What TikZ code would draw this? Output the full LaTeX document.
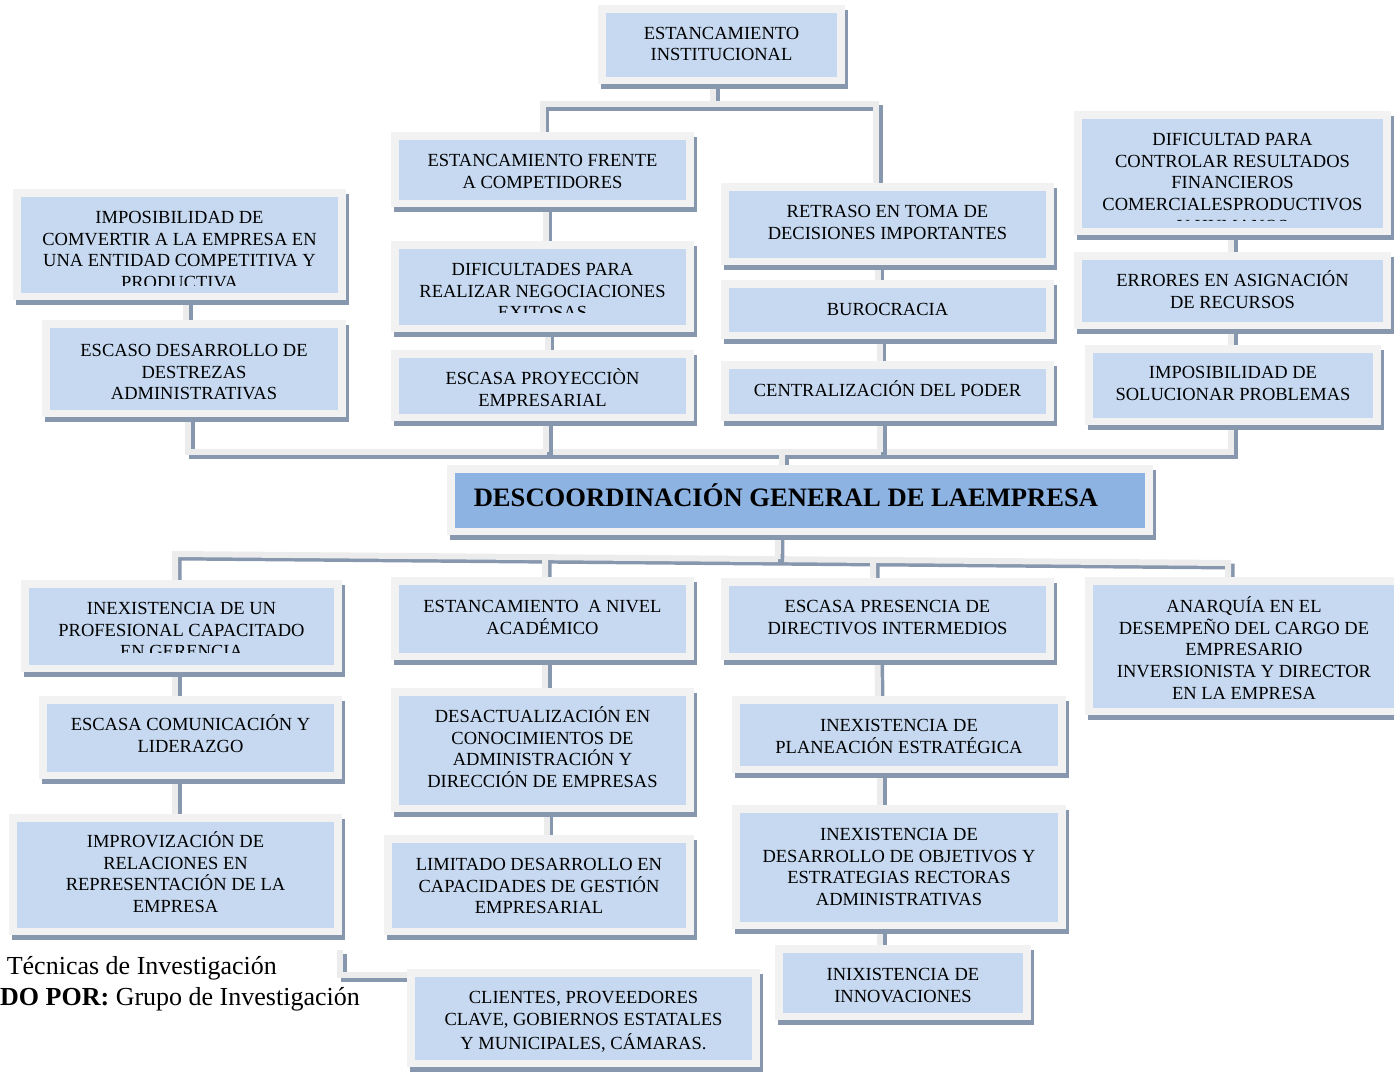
\documentclass[tikz,border=0pt]{standalone}
\usepackage{fontspec}
\setmainfont{Liberation Serif}
\usetikzlibrary{calc}
\definecolor{framec}{HTML}{F2F2F2}
\definecolor{linec}{HTML}{ECECEC}
\definecolor{shadowc}{HTML}{8797AD}
\definecolor{bluec}{HTML}{C6D9F1}
\definecolor{titlec}{HTML}{8DB3E2}
\pgfdeclarelayer{bg}
\pgfsetlayers{bg,main}
\tikzset{
  inbox/.style={draw=none, fill=bluec, inner sep=0pt, outer sep=0pt},
  boxtext/.style={anchor=north, align=center, inner sep=0pt, text=black,
    font={\fontsize{18.5}{21.7}\selectfont}},
  conn/.style={line width=6pt, draw=linec,
    preaction={draw=shadowc, line width=6pt, transform canvas={shift={(3.5pt,-3.5pt)}}}},
  srctext/.style={anchor=base east, inner sep=0pt, font={\fontsize{26}{30}\selectfont}}
}
% frame and shadow around an inner rectangle (x1,y1)-(x2,y2)
\newcommand\cfrm[4]{%
  \fill[shadowc] ({#1-5},{#2-3}) rectangle ({#3+11},{#4+12});
  \fill[framec] ({#1-8},{#2-8}) rectangle ({#3+8},{#4+7});
}
% name, x1, y1, x2, y2, first line y, text
\newcommand\cbox[7]{%
  \cfrm{#2}{#3}{#4}{#5}
  \node[inbox, minimum width={#4-#2}, minimum height={#5-#3}] (#1) at ({(#2+#4)/2},{(#3+#5)/2}) {};
  \node[boxtext] (#1-t) at ({(#2+#4)/2},{#6-10.9}) {\rule{0pt}{17pt}#7};
}
% same, with the text cut at y = #7
\newcommand\cboxc[8]{%
  \cfrm{#2}{#3}{#4}{#5}
  \node[inbox, minimum width={#4-#2}, minimum height={#5-#3}] (#1) at ({(#2+#4)/2},{(#3+#5)/2}) {};
  \begin{scope}
    \clip (#2,#3) rectangle (#4,#7);
    \node[boxtext] (#1-t) at ({(#2+#4)/2},{#6-10.9}) {\rule{0pt}{17pt}#8};
  \end{scope}
}
\begin{document}
\begin{tikzpicture}[x=1pt, y=-1pt]
\useasboundingbox (0,0) rectangle (1394,1073);

% upper branch
\cbox{b1}{606}{13}{837}{77}{33}{ESTANCAMIENTO\\INSTITUCIONAL}
\cbox{b2}{399}{140}{686}{200}{160}{ESTANCAMIENTO FRENTE\\A COMPETIDORES}
\cboxc{b3}{399}{249}{686}{325}{269}{312}{DIFICULTADES PARA\\REALIZAR NEGOCIACIONES\\EXITOSAS}
\cbox{b4}{399}{358}{686}{414}{378}{ESCASA PROYECCIÒN\\EMPRESARIAL}
\cbox{b5}{729}{191}{1046}{258}{211}{RETRASO EN TOMA DE\\DECISIONES IMPORTANTES}
\cbox{b6}{729}{288}{1046}{332}{309}{BUROCRACIA}
\cbox{b7}{729}{369}{1046}{414}{390}{CENTRALIZACIÓN DEL PODER}
\cboxc{b8}{1082}{119}{1383}{228}{139}{220}{DIFICULTAD PARA\\CONTROLAR RESULTADOS\\FINANCIEROS\\COMERCIALESPRODUCTIVOS\\Y HUMANOS}
\cbox{b9}{1082}{260}{1383}{322}{280}{ERRORES EN ASIGNACIÓN\\DE RECURSOS}
\cbox{b10}{1093}{353}{1373}{418}{372}{IMPOSIBILIDAD DE\\SOLUCIONAR PROBLEMAS}
\cboxc{b11}{21}{197}{338}{293}{217}{285}{IMPOSIBILIDAD DE\\COMVERTIR A LA EMPRESA EN\\UNA ENTIDAD COMPETITIVA Y\\PRODUCTIVA}
\cbox{b12}{50}{328}{338}{410}{350}{ESCASO DESARROLLO DE\\DESTREZAS\\ADMINISTRATIVAS}

% central problem
\cfrm{455}{473}{1145}{528}
\node[inbox, fill=titlec, minimum width=690, minimum height=55] (t) at (800,500.5) {};
\node[anchor=base, inner sep=0pt, font={\fontsize{26.6}{30}\selectfont\bfseries}] (t-t) at (786,506) {DESCOORDINACIÓN GENERAL DE LAEMPRESA};

% lower branch
\cboxc{b13}{29}{588}{334}{665}{608}{652}{INEXISTENCIA DE UN\\PROFESIONAL CAPACITADO\\EN GERENCIA}
\cbox{b14}{47}{704}{334}{772}{724}{ESCASA COMUNICACIÓN Y\\LIDERAZGO}
\cbox{b15}{17}{822}{334}{928}{841}{IMPROVIZACIÓN DE\\RELACIONES EN\\REPRESENTACIÓN DE LA\\EMPRESA}
\cbox{b16}{399}{585}{686}{653}{606}{ESTANCAMIENTO\ \ A NIVEL\\ACADÉMICO}
\cbox{b17}{399}{696}{686}{805}{716}{DESACTUALIZACIÓN EN\\CONOCIMIENTOS DE\\ADMINISTRACIÓN Y\\DIRECCIÓN DE EMPRESAS}
\cbox{b18}{392}{843}{686}{928}{864}{LIMITADO DESARROLLO EN\\CAPACIDADES DE GESTIÓN\\EMPRESARIAL}
\cbox{b19}{729}{586}{1046}{653}{606}{ESCASA PRESENCIA DE\\DIRECTIVOS INTERMEDIOS}
\cbox{b20}{740}{704}{1058}{766}{725}{INEXISTENCIA DE\\PLANEACIÓN ESTRATÉGICA}
\cbox{b21}{740}{813}{1058}{922}{834}{INEXISTENCIA DE\\DESARROLLO DE OBJETIVOS Y\\ESTRATEGIAS RECTORAS\\ADMINISTRATIVAS}
\cbox{b22}{783}{953}{1023}{1013}{974}{INIXISTENCIA DE\\INNOVACIONES}
\cbox{b23}{1093}{585}{1395}{708}{606}{ANARQUÍA EN EL\\DESEMPEÑO DEL CARGO DE\\EMPRESARIO\\INVERSIONISTA Y DIRECTOR\\EN LA EMPRESA}
\cbox{b26}{415}{977}{752}{1060}{997}{CLIENTES, PROVEEDORES\\CLAVE, GOBIERNOS ESTATALES\\[3pt]Y MUNICIPALES, CÁMARAS.}

% source lines
\node[srctext] (src1) at (277,974) {Técnicas de Investigación};
\node[srctext] (src2) at (360,1005) {\textbf{DO POR:} Grupo de Investigación};

% connectors
\begin{pgfonlayer}{bg}
  % top of the tree
  \coordinate (tj) at ([xshift=-8.5pt, yshift=-27pt]b1.south);
  \draw[conn] ([xshift=-8.5pt]b1.south) -- (tj);
  \draw[conn] (b2.north) |- (tj) -| ([xshift=-11.5pt]b5.north);
  \draw[conn] ([xshift=3pt]b2.south) -- ([xshift=3pt]b3.north);
  \draw[conn] ([xshift=5pt]b3.south) -- ([xshift=5pt]b4.north);
  \draw[conn] ([xshift=-10pt]b5.south) -- ([xshift=-10pt]b6.north);
  \draw[conn] ([xshift=-8pt]b6.south) -- ([xshift=-8pt]b7.north);
  \draw[conn] ([xshift=-1.5pt]b8.south) -- ([xshift=-1.5pt]b9.north);
  \draw[conn] ([xshift=-1.5pt]b9.south) -- ([xshift=-2pt]b10.north);
  \draw[conn] ([xshift=6.5pt]b11.south) -- ([xshift=-8pt]b12.north);
  % collector above the central box
  \coordinate (ub) at ([xshift=-18pt, yshift=21pt]t.north);
  \coordinate (c12) at ([xshift=-6pt]b12.south);
  \coordinate (c4) at ([xshift=3.5pt]b4.south);
  \coordinate (c7) at ([xshift=-7.5pt]b7.south);
  \coordinate (c10) at ([xshift=-2pt]b10.south);
  \draw[conn] (c12) |- (c10 |- ub) -- (c10);
  \draw[conn] (c4) -- (c4 |- ub);
  \draw[conn] (c7) -- (c7 |- ub);
  \draw[conn] (ub) -- (ub |- t.north);
  % collector below the central box
  \coordinate (L) at ([xshift=-6.5pt, yshift=34pt]b13.north);
  \coordinate (R) at ([xshift=-16pt, yshift=22pt]b23.north);
  \draw[conn] ([xshift=-6.5pt]b13.north) -- (L) -- (R) -- ([xshift=-16pt]b23.north);
  \coordinate (ct) at ([xshift=-22pt]t.south);
  \draw[conn] (ct) -- ($(L)!(ct)!(R)$);
  \coordinate (c16) at ([xshift=2.5pt]b16.north);
  \draw[conn] (c16) -- ($(L)!(c16)!(R)$);
  \coordinate (c19) at ([xshift=-14.5pt]b19.north);
  \draw[conn] (c19) -- ($(L)!(c19)!(R)$);
  % lower chains
  \draw[conn] ([xshift=-6.5pt]b13.south) -- ([xshift=-15.5pt]b14.north);
  \draw[conn] ([xshift=-15.5pt]b14.south) -- ([xshift=-0.5pt]b15.north);
  \draw[conn] ([xshift=6pt, yshift=-22pt]b15.south east) |- ([yshift=2pt]b26.north west);
  \draw[conn] ([xshift=2.5pt]b16.south) -- ([xshift=2.5pt]b17.north);
  \draw[conn] ([xshift=4pt]b17.south) -- ([xshift=7.5pt]b18.north);
  \draw[conn] ([xshift=-10pt]b19.south) -- ([xshift=-21pt]b20.north);
  \draw[conn] ([xshift=-19pt]b20.south) -- ([xshift=-19pt]b21.north);
  \draw[conn] ([xshift=-19pt]b21.south) -- ([xshift=-23pt]b22.north);
\end{pgfonlayer}
\end{tikzpicture}
\end{document}
